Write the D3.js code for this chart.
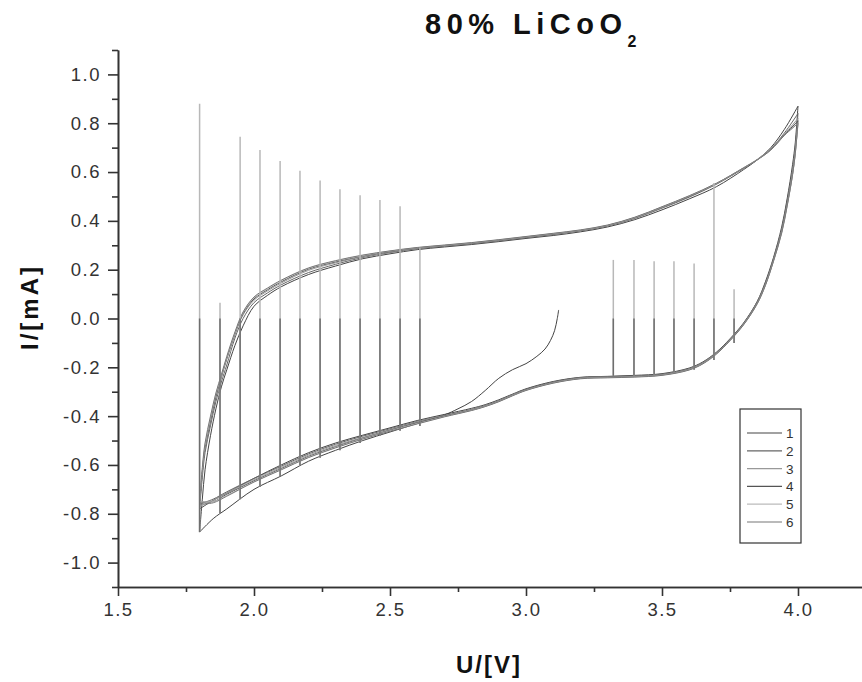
<!DOCTYPE html>
<html>
<head>
<meta charset="utf-8">
<script src="https://cdn.jsdelivr.net/npm/d3@7"></script>
<style>
  body { margin: 0; background: #fff; }
  svg { display: block; font-family: "Liberation Sans", Arial, sans-serif; }
</style>
</head>
<body>
<svg width="862" height="682"></svg>
<script>
// voltage grids for the two sweep directions
var upperU = [1.80, 1.81, 1.82, 1.84, 1.86, 1.88, 1.90, 1.93, 1.96, 2.00, 2.05, 2.10, 2.20, 2.30, 2.40, 2.50, 2.60, 2.70, 2.80, 2.90, 3.00, 3.10, 3.20, 3.30, 3.40, 3.50, 3.60, 3.70, 3.80, 3.85, 3.90, 3.95, 4.00];
var lowerU = [4.00, 3.995, 3.99, 3.98, 3.96, 3.94, 3.91, 3.88, 3.85, 3.80, 3.75, 3.70, 3.65, 3.60, 3.50, 3.40, 3.30, 3.20, 3.10, 3.00, 2.95, 2.90, 2.85, 2.80, 2.70, 2.60, 2.50, 2.40, 2.30, 2.20, 2.10, 2.00, 1.90, 1.85, 1.80];

// first sweep of cycle 1, from open circuit down to 1.8 V
var initU = [3.12, 3.115, 3.105, 3.09, 3.07, 3.04, 3.00, 2.95, 2.90, 2.85, 2.80, 2.75, 2.70, 2.60, 2.50, 2.40, 2.30, 2.20, 2.10, 2.00, 1.90, 1.85, 1.80];
var initI = [0.035, 0.0, -0.05, -0.09, -0.125, -0.155, -0.185, -0.21, -0.245, -0.295, -0.34, -0.37, -0.395, -0.43, -0.465, -0.50, -0.54, -0.585, -0.645, -0.70, -0.78, -0.82, -0.875];

var cycles = ["1", "2", "3", "4", "5", "6"];
var cycleColors = ["#444", "#666", "#999", "#555", "#bbb", "#777"];

// anodic sweep currents (mA), one list per cycle
var upperI1 = [-0.875, -0.74, -0.62, -0.48, -0.37, -0.28, -0.21, -0.11, -0.03, 0.05, 0.095, 0.13, 0.18, 0.215, 0.245, 0.265, 0.282, 0.293, 0.303, 0.315, 0.328, 0.340, 0.355, 0.375, 0.405, 0.445, 0.49, 0.54, 0.61, 0.65, 0.70, 0.775, 0.87];
var upperI2 = [-0.78, -0.65, -0.55, -0.44, -0.34, -0.26, -0.19, -0.08, 0.0, 0.065, 0.105, 0.138, 0.188, 0.222, 0.25, 0.27, 0.286, 0.296, 0.306, 0.318, 0.331, 0.344, 0.359, 0.379, 0.41, 0.452, 0.497, 0.55, 0.615, 0.65, 0.695, 0.76, 0.84];
var upperI3 = [-0.76, -0.63, -0.53, -0.42, -0.32, -0.24, -0.165, -0.06, 0.015, 0.075, 0.113, 0.145, 0.197, 0.228, 0.253, 0.272, 0.288, 0.298, 0.308, 0.32, 0.333, 0.346, 0.36, 0.38, 0.412, 0.455, 0.50, 0.553, 0.618, 0.652, 0.695, 0.755, 0.82];
var upperI4 = [-0.77, -0.63, -0.53, -0.42, -0.32, -0.24, -0.165, -0.065, 0.02, 0.08, 0.118, 0.15, 0.202, 0.232, 0.256, 0.274, 0.289, 0.299, 0.309, 0.321, 0.334, 0.347, 0.361, 0.381, 0.413, 0.456, 0.50, 0.552, 0.616, 0.65, 0.692, 0.752, 0.81];
var upperI5 = [-0.75, -0.62, -0.52, -0.41, -0.31, -0.235, -0.16, -0.06, 0.025, 0.085, 0.122, 0.155, 0.205, 0.235, 0.258, 0.276, 0.29, 0.30, 0.31, 0.322, 0.335, 0.348, 0.362, 0.382, 0.414, 0.457, 0.502, 0.553, 0.617, 0.65, 0.69, 0.75, 0.80];
var upperI6 = [-0.75, -0.61, -0.51, -0.40, -0.305, -0.23, -0.155, -0.055, 0.027, 0.088, 0.125, 0.157, 0.207, 0.237, 0.26, 0.277, 0.291, 0.301, 0.311, 0.323, 0.336, 0.349, 0.363, 0.383, 0.415, 0.458, 0.503, 0.554, 0.617, 0.65, 0.69, 0.75, 0.80];

// cathodic sweep currents (mA)
var lowerI1 = [0.87, 0.79, 0.72, 0.63, 0.49, 0.375, 0.25, 0.15, 0.07, -0.018, -0.083, -0.138, -0.178, -0.203, -0.226, -0.233, -0.237, -0.241, -0.258, -0.288, -0.31, -0.333, -0.353, -0.368, -0.393, -0.418, -0.448, -0.478, -0.51, -0.55, -0.60, -0.655, -0.715, -0.745, -0.78];
var lowerI2 = [0.84, 0.77, 0.70, 0.61, 0.48, 0.365, 0.245, 0.145, 0.068, -0.02, -0.085, -0.14, -0.18, -0.205, -0.228, -0.235, -0.238, -0.242, -0.26, -0.29, -0.312, -0.336, -0.356, -0.372, -0.397, -0.422, -0.452, -0.482, -0.515, -0.555, -0.605, -0.655, -0.71, -0.74, -0.76];
var lowerI3 = [0.82, 0.75, 0.69, 0.60, 0.47, 0.36, 0.24, 0.14, 0.065, -0.022, -0.087, -0.142, -0.182, -0.207, -0.23, -0.237, -0.24, -0.244, -0.262, -0.292, -0.313, -0.337, -0.357, -0.373, -0.398, -0.424, -0.455, -0.487, -0.52, -0.56, -0.61, -0.66, -0.715, -0.745, -0.77];
var lowerI4 = [0.81, 0.74, 0.68, 0.59, 0.465, 0.355, 0.238, 0.138, 0.062, -0.024, -0.089, -0.144, -0.184, -0.209, -0.231, -0.238, -0.241, -0.245, -0.263, -0.293, -0.315, -0.339, -0.359, -0.375, -0.40, -0.427, -0.458, -0.49, -0.525, -0.565, -0.615, -0.665, -0.72, -0.75, -0.75];
var lowerI5 = [0.80, 0.735, 0.675, 0.59, 0.46, 0.35, 0.235, 0.136, 0.06, -0.025, -0.09, -0.145, -0.185, -0.21, -0.232, -0.239, -0.242, -0.246, -0.264, -0.294, -0.316, -0.34, -0.36, -0.376, -0.402, -0.43, -0.46, -0.492, -0.528, -0.568, -0.618, -0.668, -0.725, -0.75, -0.75];
var lowerI6 = [0.80, 0.735, 0.675, 0.59, 0.46, 0.35, 0.235, 0.135, 0.06, -0.026, -0.091, -0.146, -0.186, -0.211, -0.233, -0.24, -0.243, -0.247, -0.265, -0.295, -0.317, -0.341, -0.361, -0.377, -0.403, -0.432, -0.462, -0.494, -0.53, -0.57, -0.62, -0.67, -0.728, -0.755, -0.76];

var upperAll = [upperI1, upperI2, upperI3, upperI4, upperI5, upperI6];
var lowerAll = [lowerI1, lowerI2, lowerI3, lowerI4, lowerI5, lowerI6];

// vertical spikes (recording artefacts)
var spikeU = [1.80, 1.875, 1.949, 2.022, 2.096, 2.169, 2.243, 2.316, 2.39, 2.463, 2.537, 2.61, 3.321, 3.397, 3.471, 3.544, 3.618, 3.691, 3.765];
var spikeTop = [0.88, 0.065, 0.745, 0.69, 0.645, 0.605, 0.565, 0.53, 0.505, 0.485, 0.46, 0.29, 0.24, 0.24, 0.235, 0.235, 0.225, 0.555, 0.12];
var spikeBottom = [-0.875, -0.80, -0.74, -0.69, -0.645, -0.60, -0.57, -0.54, -0.51, -0.48, -0.46, -0.44, -0.235, -0.235, -0.23, -0.22, -0.21, -0.17, -0.10];

var xMajor = [1.5, 2.0, 2.5, 3.0, 3.5, 4.0];
var xMinor = [1.75, 2.25, 2.75, 3.25, 3.75, 4.25];
var yMajor = [-1.0, -0.8, -0.6, -0.4, -0.2, 0.0, 0.2, 0.4, 0.6, 0.8, 1.0];
var yMinor = [-1.1, -0.9, -0.7, -0.5, -0.3, -0.1, 0.1, 0.3, 0.5, 0.7, 0.9, 1.1];

var svg = d3.select("svg");
var x = d3.scaleLinear().domain([1.5, 4.25]).range([118, 866]);
var y = d3.scaleLinear().domain([-1.1, 1.1]).range([587, 50]);

var line = d3.line()
    .x(d => x(d[0]))
    .y(d => y(d[1]))
    .curve(d3.curveCatmullRom.alpha(0.5));

//build each cycle as one loop: up sweep then down sweep
var series = cycles.map(function(c, i) {
  var pts = [];
  if (i === 0) initU.forEach((u, j) => pts.push([u, initI[j]]));
  upperU.forEach((u, j) => pts.push([u, upperAll[i][j]]));
  lowerU.forEach((u, j) => pts.push([u, lowerAll[i][j]]));
  return pts;
});

svg.append("g").selectAll("path")
  .data(series)
  .enter().append("path")
    .attr("fill", "none")
    .attr("stroke", (d, i) => cycleColors[i])
    .attr("stroke-width", 1)
    .attr("d", line);

// spikes: light upper part, darker part below zero
var spikes = svg.append("g");
spikes.selectAll(".sl")
  .data(spikeU)
  .enter().append("line")
    .attr("x1", d => x(d)).attr("x2", d => x(d))
    .attr("y1", (d, i) => y(spikeTop[i]))
    .attr("y2", (d, i) => y(spikeBottom[i]))
    .attr("stroke", "#b8b8b8")
    .attr("stroke-width", 1.5);
spikes.selectAll(".sd")
  .data(spikeU)
  .enter().append("line")
    .attr("x1", d => x(d)).attr("x2", d => x(d))
    .attr("y1", (d, i) => y(Math.min(0, spikeTop[i])))
    .attr("y2", (d, i) => y(spikeBottom[i]))
    .attr("stroke", "#6e6e6e")
    .attr("stroke-width", 1.5);

// axes
var fmt = d => d.toFixed(1);
svg.append("g").attr("transform", "translate(118,0)")
  .call(d3.axisLeft(y).tickValues(yMajor).tickFormat(fmt).tickSize(10).tickSizeOuter(0).tickPadding(7));
svg.append("g").attr("transform", "translate(118,0)")
  .call(d3.axisLeft(y).tickValues(yMinor).tickFormat("").tickSize(6).tickSizeOuter(0));
svg.append("g").attr("transform", "translate(0,587)")
  .call(d3.axisBottom(x).tickValues(xMajor).tickFormat(fmt).tickSize(9).tickSizeOuter(0).tickPadding(7));
svg.append("g").attr("transform", "translate(0,587)")
  .call(d3.axisBottom(x).tickValues(xMinor).tickFormat("").tickSize(5).tickSizeOuter(0));

svg.selectAll(".domain, .tick line").attr("stroke", "#333").attr("stroke-width", 1.6);
svg.selectAll(".tick text")
  .attr("font-size", 18.5)
  .attr("fill", "#333")
  .attr("font-family", "Liberation Sans, Arial, sans-serif")
  .style("letter-spacing", "1.5px");

// title with subscript
var title = svg.append("text")
  .attr("x", 425).attr("y", 34)
  .attr("font-size", 29)
  .attr("font-weight", "bold")
  .style("letter-spacing", "5.5px")
  .attr("fill", "#111");
title.append("tspan").text("80% LiCoO");
title.append("tspan").attr("font-size", 16).attr("dy", 13).text("2");

svg.append("text")
  .attr("transform", "translate(38,307) rotate(-90)")
  .attr("text-anchor", "middle")
  .attr("font-size", 24)
  .attr("font-weight", "bold")
  .style("letter-spacing", "3px")
  .attr("fill", "#111")
  .text("I/[mA]");

svg.append("text")
  .attr("x", 489).attr("y", 673)
  .attr("text-anchor", "middle")
  .attr("font-size", 24)
  .attr("font-weight", "bold")
  .style("letter-spacing", "2px")
  .attr("fill", "#111")
  .text("U/[V]");

// legend
var legend = svg.append("g");
legend.append("rect")
  .attr("x", 740).attr("y", 409).attr("width", 61).attr("height", 134)
  .attr("fill", "#fff").attr("stroke", "#333").attr("stroke-width", 1.2);
var item = legend.selectAll(".item")
  .data(cycles)
  .enter().append("g")
    .attr("transform", (d, i) => "translate(0," + (433 + i * 17.8) + ")");
item.append("line")
  .attr("x1", 747).attr("x2", 782)
  .attr("stroke", (d, i) => cycleColors[i])
  .attr("stroke-width", 1.2);
item.append("text")
  .attr("x", 786).attr("y", 5)
  .attr("font-size", 13.5)
  .attr("fill", "#333")
  .text(d => d);
</script>
</body>
</html>
